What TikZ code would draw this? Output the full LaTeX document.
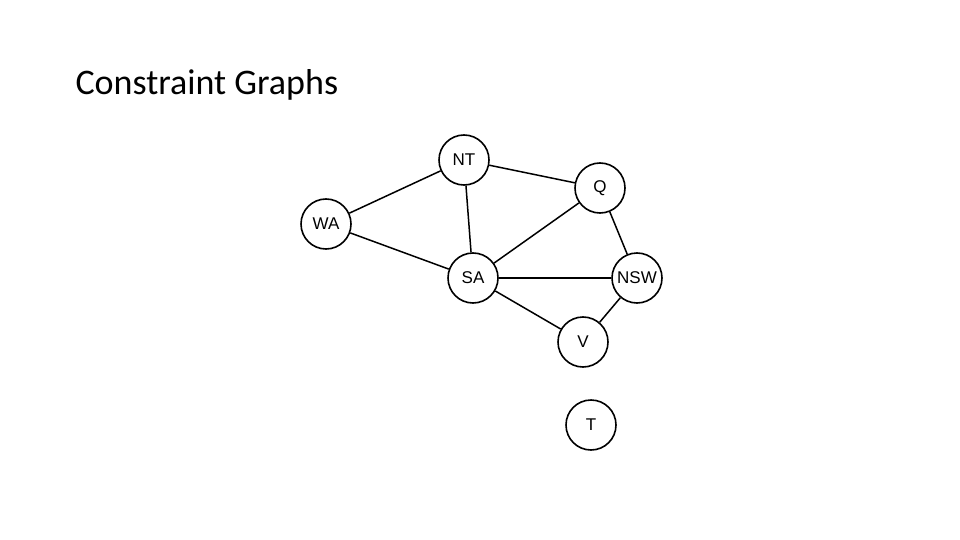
\documentclass[tikz,border=0pt]{standalone}
\usepackage{fontspec}
\setmainfont{Carlito}
\newfontfamily\nodefont{Liberation Sans}
\begin{document}
\begin{tikzpicture}[x=1pt,y=-1pt,
  vert/.style={circle,draw,line width=1.6pt,minimum size=50pt,inner sep=0pt,font=\nodefont\fontsize{17}{17}\selectfont},
  edge/.style={line width=1.5pt}]
\useasboundingbox (0,0) rectangle (960,540);
\node[anchor=base west,font=\fontsize{36}{36}\selectfont] (title) at (72,95) {Constraint Graphs};
\node[vert] (NT) at (464,160) {NT};
\node[vert] (Q) at (600,188) {Q};
\node[vert] (WA) at (326,224) {WA};
\node[vert] (SA) at (473,278) {SA};
\node[vert] (NSW) at (637,278) {NSW};
\node[vert] (V) at (583,342) {V};
\node[vert] (T) at (591,425) {T};
\draw[edge] (WA)--(NT);
\draw[edge] (WA)--(SA);
\draw[edge] (NT)--(SA);
\draw[edge] (NT)--(Q);
\draw[edge] (Q)--(SA);
\draw[edge] (Q)--(NSW);
\draw[line width=2.5pt] (SA)--(NSW);
\draw[edge] (SA)--(V);
\draw[edge] (V)--(NSW);
\end{tikzpicture}
\end{document}
